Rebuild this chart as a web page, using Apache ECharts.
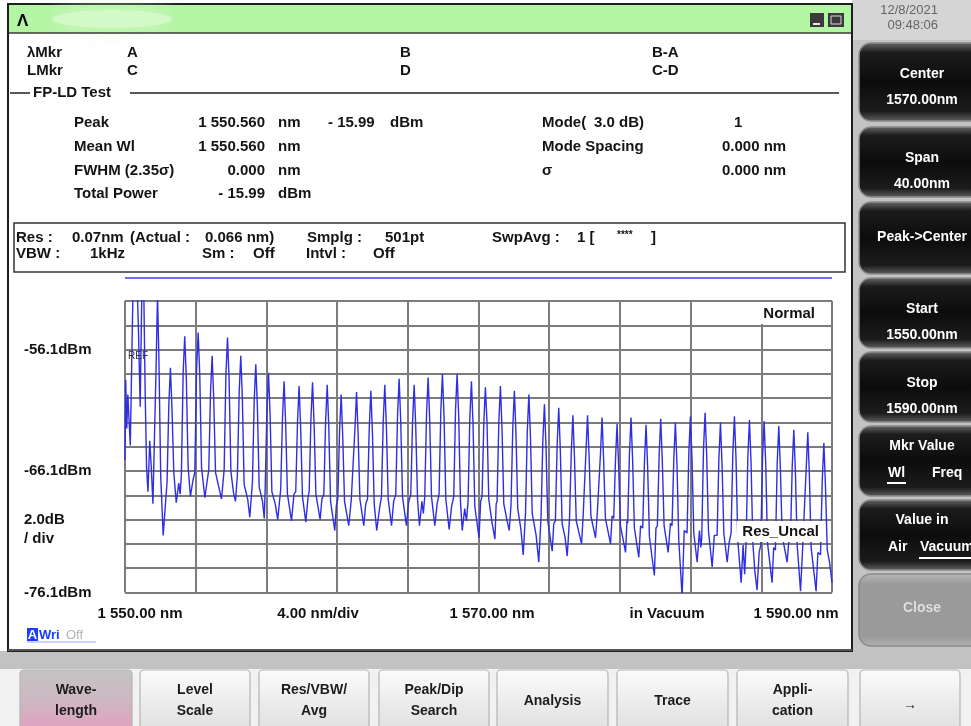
<!DOCTYPE html>
<html>
<head>
<meta charset="utf-8">
<title>FP-LD Test</title>
<script src="https://cdn.jsdelivr.net/npm/echarts@6/dist/echarts.min.js"></script>
<style>
  html, body { margin: 0; padding: 0; background: #ffffff; }
  #osa { width: 971px; height: 726px; }
</style>
</head>
<body>
<div id="osa"></div>
<script>
// ---- measured spectrum: [wavelength nm, level dBm] ----
const spectrumPoints = [
  [1550.00,-65.2],[1550.04,-58.6],[1550.10,-62.6],[1550.16,-59.8],[1550.30,-64.0],[1550.40,-55.5],
  [1550.48,-49.0],[1550.56,-15.99],[1550.64,-48.5],[1550.76,-54.4],[1550.86,-60.8],[1550.96,-50.5],
  [1551.06,-51.0],[1551.14,-59.5],[1551.22,-65.8],[1551.30,-67.8],[1551.40,-63.6],[1551.48,-65.6],
  [1551.58,-68.8],[1551.68,-62.5],[1551.76,-57.5],[1551.84,-51.6],[1551.92,-57.0],[1552.02,-66.5],
  [1552.16,-71.4],
  [1552.38,-67.0],[1552.48,-60.6],[1552.57,-57.6],[1552.66,-61.1],[1552.76,-66.2],[1552.90,-68.7],[1553.04,-67.1],[1553.12,-68.0],
  [1553.19,-66.4],[1553.29,-58.0],[1553.38,-55.0],[1553.47,-58.5],[1553.57,-65.7],[1553.70,-68.2],[1553.84,-66.9],
  [1553.95,-66.2],[1554.05,-57.7],[1554.14,-54.7],[1554.23,-58.2],[1554.33,-65.8],[1554.52,-68.3],[1554.64,-67.0],
  [1554.74,-66.0],[1554.84,-59.6],[1554.93,-56.6],[1555.02,-60.1],[1555.12,-66.2],[1555.32,-67.5],[1555.46,-68.4],
  [1555.61,-66.0],[1555.71,-58.1],[1555.80,-55.1],[1555.89,-58.6],[1555.99,-66.1],[1556.14,-67.9],[1556.25,-68.6],
  [1556.36,-66.4],[1556.46,-59.6],[1556.55,-56.6],[1556.64,-60.1],[1556.74,-67.2],[1556.94,-68.4],[1557.06,-69.9],
  [1557.21,-67.0],[1557.31,-60.3],[1557.40,-57.3],[1557.49,-60.8],[1557.59,-67.4],[1557.78,-68.6],[1557.88,-70.0],
  [1557.93,-67.6],[1558.03,-61.0],[1558.12,-58.0],[1558.21,-61.5],[1558.31,-67.8],[1558.50,-68.8],[1558.64,-70.1],
  [1558.81,-67.6],[1558.91,-61.7],[1559.00,-58.7],[1559.09,-62.2],[1559.19,-68.0],[1559.42,-70.2],[1559.56,-68.0],
  [1559.66,-67.8],[1559.76,-62.1],[1559.85,-59.1],[1559.94,-62.6],[1560.04,-68.2],[1560.23,-70.3],[1560.36,-68.2],
  [1560.42,-67.8],[1560.52,-61.8],[1560.61,-58.8],[1560.70,-62.3],[1560.80,-68.0],[1561.04,-70.1],[1561.14,-68.4],
  [1561.25,-68.0],[1561.35,-62.0],[1561.44,-59.0],[1561.53,-62.5],[1561.63,-68.6],[1561.87,-71.0],[1561.96,-68.9],
  [1562.04,-68.4],[1562.14,-62.8],[1562.23,-59.8],[1562.32,-63.3],[1562.42,-68.6],[1562.66,-70.6],[1562.80,-68.5],
  [1562.91,-68.4],[1563.01,-62.6],[1563.10,-59.6],[1563.19,-63.1],[1563.29,-68.4],[1563.51,-70.6],[1563.62,-68.8],
  [1563.72,-68.4],[1563.82,-62.5],[1563.91,-59.5],[1564.00,-63.0],[1564.10,-68.8],[1564.24,-71.0],[1564.40,-69.2],
  [1564.51,-68.2],[1564.61,-62.0],[1564.70,-59.0],[1564.79,-62.5],[1564.89,-68.4],[1565.08,-70.6],[1565.20,-68.6],
  [1565.32,-68.0],[1565.42,-61.5],[1565.51,-58.5],[1565.60,-62.0],[1565.70,-68.2],[1565.92,-70.6],[1566.04,-68.7],
  [1566.17,-68.0],[1566.27,-62.0],[1566.36,-59.0],[1566.45,-62.5],[1566.55,-68.4],[1566.66,-70.6],[1566.80,-68.6],[1566.88,-69.6],
  [1566.96,-68.2],[1567.06,-61.4],[1567.15,-58.4],[1567.24,-61.9],[1567.34,-68.2],[1567.53,-70.6],[1567.66,-68.8],
  [1567.77,-68.0],[1567.87,-61.1],[1567.96,-58.1],[1568.05,-61.6],[1568.15,-68.4],[1568.34,-70.9],[1568.48,-69.0],
  [1568.60,-68.2],[1568.70,-61.1],[1568.79,-58.1],[1568.88,-61.6],[1568.98,-68.6],[1569.08,-71.0],[1569.22,-69.2],[1569.32,-70.2],
  [1569.41,-68.6],[1569.51,-61.7],[1569.60,-58.7],[1569.69,-62.2],[1569.79,-69.0],[1570.03,-71.6],[1570.12,-68.6],
  [1570.20,-68.2],[1570.30,-62.2],[1570.39,-59.2],[1570.48,-62.0],[1570.58,-68.4],[1570.76,-70.3],[1570.93,-71.7],[1571.00,-68.8],
  [1571.05,-68.6],[1571.15,-62.1],[1571.24,-59.1],[1571.33,-62.6],[1571.43,-68.8],[1571.62,-70.2],[1571.74,-71.0],
  [1571.84,-68.9],[1571.94,-62.5],[1572.03,-59.5],[1572.12,-63.0],[1572.22,-69.2],[1572.40,-70.9],[1572.53,-73.0],
  [1572.66,-69.6],[1572.76,-62.8],[1572.85,-59.8],[1572.94,-63.3],[1573.04,-69.6],[1573.26,-71.4],[1573.41,-73.6],
  [1573.54,-69.8],[1573.64,-63.6],[1573.73,-60.6],[1573.82,-64.1],[1573.92,-70.2],[1574.17,-72.7],[1574.26,-70.4],
  [1574.35,-70.2],[1574.45,-63.9],[1574.54,-60.9],[1574.63,-64.4],[1574.73,-70.4],[1574.90,-71.6],[1575.02,-73.1],
  [1575.15,-70.0],[1575.25,-64.5],[1575.34,-61.5],[1575.43,-65.0],[1575.53,-70.2],[1575.83,-72.1],[1575.92,-69.8],
  [1575.98,-69.8],[1576.08,-64.5],[1576.17,-61.5],[1576.26,-65.0],[1576.36,-69.8],[1576.62,-71.6],[1576.72,-69.6],
  [1576.80,-69.6],[1576.90,-64.7],[1576.99,-61.7],[1577.08,-65.2],[1577.18,-70.0],[1577.47,-72.1],[1577.56,-69.8],
  [1577.65,-70.0],[1577.75,-65.2],[1577.84,-62.2],[1577.93,-65.7],[1578.03,-70.6],[1578.32,-72.8],[1578.40,-70.2],
  [1578.44,-70.4],[1578.54,-64.7],[1578.63,-61.7],[1578.72,-65.2],[1578.82,-70.8],[1579.07,-73.2],[1579.17,-70.6],
  [1579.29,-70.8],[1579.39,-65.3],[1579.48,-62.3],[1579.57,-65.8],[1579.67,-71.5],[1579.95,-74.7],[1580.04,-70.8],
  [1580.12,-70.6],[1580.22,-64.8],[1580.31,-61.8],[1580.40,-65.3],[1580.50,-70.6],[1580.73,-72.8],[1580.86,-70.4],
  [1580.95,-70.6],[1581.05,-65.1],[1581.14,-62.1],[1581.23,-65.6],[1581.33,-71.8],[1581.52,-76.4],[1581.64,-71.0],
  [1581.80,-71.2],[1581.90,-64.6],[1581.99,-61.6],[1582.08,-65.1],[1582.18,-71.2],[1582.37,-73.6],[1582.50,-71.0],[1582.58,-72.4],
  [1582.63,-71.6],[1582.73,-64.3],[1582.82,-61.3],[1582.91,-64.8],[1583.01,-71.0],[1583.22,-74.0],[1583.34,-71.4],
  [1583.50,-71.4],[1583.60,-65.1],[1583.69,-62.1],[1583.78,-65.6],[1583.88,-71.2],[1584.07,-73.6],[1584.18,-72.0],
  [1584.29,-71.2],[1584.39,-64.6],[1584.48,-61.6],[1584.57,-65.1],[1584.67,-71.8],[1584.86,-75.3],[1584.97,-72.2],[1585.06,-74.6],
  [1585.14,-72.0],[1585.24,-64.9],[1585.33,-61.9],[1585.42,-65.4],[1585.52,-72.0],[1585.64,-74.4],[1585.76,-75.9],[1585.88,-72.8],
  [1585.97,-72.2],[1586.07,-65.0],[1586.16,-62.0],[1586.25,-65.5],[1586.35,-72.0],[1586.61,-75.3],[1586.70,-72.4],
  [1586.80,-72.6],[1586.90,-65.4],[1586.99,-62.4],[1587.08,-65.9],[1587.18,-71.4],[1587.46,-73.6],[1587.55,-72.0],
  [1587.65,-71.8],[1587.75,-65.7],[1587.84,-62.7],[1587.93,-66.2],[1588.03,-72.2],[1588.22,-76.0],[1588.34,-72.4],
  [1588.44,-72.4],[1588.54,-65.9],[1588.63,-62.9],[1588.72,-66.4],[1588.82,-72.4],[1589.10,-76.0],[1589.20,-72.8],
  [1589.35,-73.0],[1589.45,-66.8],[1589.54,-63.8],[1589.63,-67.3],[1589.73,-72.6],[1589.86,-73.6],[1590.00,-75.3]
];

// ---- scale settings ----
const wavelengthRange = [1550, 1590];     // nm, 4.00 nm/div, 10 div
const levelRange = [-76.1, -52.1];        // dBm, 2.0 dB/div, 12 div
const xDivisions = 10;
const yDivisions = 12;
const levelDivisionLabels = { 0: '-76.1dBm', 5: '-66.1dBm', 10: '-56.1dBm' };
const wavelengthFooterLabels = ['1 550.00 nm', '4.00 nm/div', '1 570.00 nm', 'in Vacuum', '1 590.00 nm'];

// ---- analysis readout ----
const markerRows = [['λMkr', 'A', 'B', 'B-A'], ['LMkr', 'C', 'D', 'C-D']];
const resultLeft = [
  ['Peak', '1 550.560', 'nm'],
  ['Mean Wl', '1 550.560', 'nm'],
  ['FWHM (2.35σ)', '0.000', 'nm'],
  ['Total Power', '- 15.99', 'dBm']
];
const peakLevelText = ['- 15.99', 'dBm'];
const resultRight = [['Mode Spacing', '0.000 nm'], ['σ', '0.000 nm']];
const conditionRow1 = [['Res :', 16], ['0.07nm', 72], ['(Actual :', 130], ['0.066 nm)', 205],
                       ['Smplg :', 307], ['501pt', 385], ['SwpAvg :', 492], ['1 [', 577], [']', 651]];
const conditionRow2 = [['VBW :', 16], ['1kHz', 90], ['Sm :', 202], ['Off', 253], ['Intvl :', 306], ['Off', 373]];
const sideKeyLabels = [
  ['Center', '1570.00nm'], ['Span', '40.00nm'], ['Peak->Center'], ['Start', '1550.00nm'],
  ['Stop', '1590.00nm'], ['Mkr Value'], ['Value in'], ['Close']
];
const functionKeyLabels = [
  ['Wave-', 'length'], ['Level', 'Scale'], ['Res/VBW/', 'Avg'], ['Peak/Dip', 'Search'],
  ['Analysis'], ['Trace'], ['Appli-', 'cation'], ['→']
];

// ---- drawing helpers ----
const FONT = '"Liberation Sans", Arial, sans-serif';
function txt(x, y, text, opt) {
  opt = opt || {};
  return {
    type: 'text', x: x, y: y, z: opt.z != null ? opt.z : 60, silent: true,
    style: {
      text: text,
      font: opt.font || ('bold 15px ' + FONT),
      fill: opt.fill || '#141414',
      textAlign: opt.align || 'left', align: opt.align || 'left',
      textVerticalAlign: 'middle', verticalAlign: 'middle'
    }
  };
}
function box(x, y, w, h, style, z, r) {
  return { type: 'rect', z: z != null ? z : -5, silent: true,
           shape: { x: x, y: y, width: w, height: h, r: r || 0 }, style: style };
}
function seg(x1, y1, x2, y2, stroke, lw, z) {
  return { type: 'line', z: z != null ? z : 40, silent: true,
           shape: { x1: x1, y1: y1, x2: x2, y2: y2 }, style: { stroke: stroke, lineWidth: lw || 1 } };
}
function vgrad(stops) {
  return { type: 'linear', x: 0, y: 0, x2: 0, y2: 1,
           colorStops: stops.map(function (s) { return { offset: s[0], color: s[1] }; }) };
}

const ui = [];
// backgrounds
ui.push(box(0, 0, 971, 726, { fill: '#ffffff' }, -20));
ui.push(box(852, 0, 119, 660, { fill: '#c3c3c3' }, -19));
ui.push(box(852, 0, 119, 40, { fill: '#d5d5d5' }, -18));
ui.push(box(0, 651, 971, 18, { fill: '#c2c2c2' }, -19));
ui.push(box(0, 669, 971, 57, { fill: '#f1f1f1' }, -19));
// main window
ui.push(box(8, 4, 844, 647, { fill: '#ffffff', stroke: '#1e1e1e', lineWidth: 2 }, -10));
ui.push(box(9, 5, 842, 28, { fill: '#b2f5a2' }, -9));
ui.push({ type: 'ellipse', z: -8, silent: true, shape: { cx: 112, cy: 19, rx: 60, ry: 9 },
          style: { fill: 'rgba(214,250,204,0.8)', shadowBlur: 24, shadowColor: 'rgba(222,251,214,1)' } });
ui.push(seg(9, 33, 851, 33, '#3a3a3a', 1.5, -7));
ui.push(txt(17, 21, 'Λ', { font: 'bold 17px ' + FONT, fill: '#000' }));
ui.push(box(810, 13, 14, 14, { fill: '#3a3a3a' }, -6));
ui.push(seg(813, 24, 820, 24, '#e8e8e8', 2, -5));
ui.push(box(828, 13, 16, 14, { fill: '#3a3a3a' }, -6));
ui.push(box(831, 16, 10, 8, { fill: 'none', stroke: '#d8d8d8', lineWidth: 1 }, -5));
ui.push(seg(8, 650, 852, 650, '#555555', 2, -4));

// marker rows
markerRows.forEach(function (row, i) {
  const y = 53 + i * 17.5;
  ui.push(txt(27, y, row[0]));
  ui.push(txt(127, y, row[1]));
  ui.push(txt(400, y, row[2]));
  ui.push(txt(652, y, row[3]));
});
ui.push(seg(10, 93, 30, 93, '#222', 1.5));
ui.push(seg(130, 93, 839, 93, '#222', 1.5));
ui.push(txt(33, 93, 'FP-LD Test'));

// analysis results
const resultY = [122.5, 147.2, 171.2, 194];
resultLeft.forEach(function (row, i) {
  ui.push(txt(74, resultY[i], row[0]));
  ui.push(txt(265, resultY[i], row[1], { align: 'right' }));
  ui.push(txt(278, resultY[i], row[2]));
});
ui.push(txt(328, resultY[0], peakLevelText[0]));
ui.push(txt(390, resultY[0], peakLevelText[1]));
ui.push(txt(542, resultY[0], 'Mode('));
ui.push(txt(594, resultY[0], '3.0'));
ui.push(txt(619, resultY[0], 'dB)'));
ui.push(txt(734, resultY[0], '1'));
resultRight.forEach(function (row, i) {
  ui.push(txt(542, resultY[i + 1], row[0]));
  ui.push(txt(722, resultY[i + 1], row[1]));
});

// measurement condition box
ui.push(box(14, 223, 831, 49, { fill: 'none', stroke: '#333', lineWidth: 1.5 }, 30));
conditionRow1.forEach(function (c) { ui.push(txt(c[1], 238, c[0])); });
conditionRow2.forEach(function (c) { ui.push(txt(c[1], 254, c[0])); });
ui.push(txt(617, 235, '****', { font: 'bold 10px ' + FONT }));
ui.push(seg(125, 278, 832, 278, '#3b3bf0', 1.5));

// plot annotations
ui.push(txt(128, 356, 'REF', { font: '10px ' + FONT, fill: '#333' }));
ui.push(box(752, 302, 79, 22, { fill: '#ffffff' }, 80));
ui.push(txt(815, 314, 'Normal', { align: 'right', z: 81 }));
ui.push(box(737, 521, 86, 21, { fill: '#ffffff' }, 80));
ui.push(txt(819, 532, 'Res_Uncal', { align: 'right', z: 81 }));
ui.push(txt(24, 520, '2.0dB'));
ui.push(txt(24, 539, '/ div'));
const footerCenters = [140, 318, 492, 667, 796];
wavelengthFooterLabels.forEach(function (s, i) {
  ui.push(txt(footerCenters[i], 614, s, { align: 'center' }));
});
ui.push(box(27, 628, 11, 13, { fill: '#1a3cff' }, 50));
ui.push(txt(32.5, 635, 'A', { align: 'center', fill: '#ffffff', font: 'bold 13px ' + FONT }));
ui.push(txt(39, 635, 'Wri', { fill: '#1a3cff', font: 'bold 13px ' + FONT }));
ui.push(txt(66, 635, 'Off', { fill: '#b4b4b4', font: '13px ' + FONT }));
ui.push(seg(27, 642, 96, 642, '#9aa6ff', 1));

// right side soft keys
ui.push(txt(938, 10, '12/8/2021', { align: 'right', font: '13px ' + FONT, fill: '#666' }));
ui.push(txt(938, 25, '09:48:06', { align: 'right', font: '13px ' + FONT, fill: '#666' }));
const sideTops = [43, 127, 202, 278, 352, 426, 500, 574];
const sideHeights = [78, 70, 72, 70, 70, 70, 70, 72];
sideKeyLabels.forEach(function (lines, i) {
  const top = sideTops[i], h = sideHeights[i];
  const closing = i === sideKeyLabels.length - 1;
  ui.push(box(859, top, 125, h, {
    fill: closing
      ? vgrad([[0, '#b8b8b8'], [0.15, '#9a9a9a'], [0.85, '#9a9a9a'], [1, '#b0b0b0']])
      : vgrad([[0, '#6c6c6c'], [0.13, '#1c1c1c'], [0.5, '#0c0c0c'], [0.87, '#1c1c1c'], [1, '#626262']]),
    stroke: closing ? '#8a8a8a' : '#8c8c8c', lineWidth: 1.5
  }, -3, 12));
  const fill = closing ? '#dedede' : '#ffffff';
  const F = 'bold 14px ' + FONT;
  if (lines.length === 2) {
    ui.push(txt(922, top + 31, lines[0], { align: 'center', fill: fill, font: F }));
    ui.push(txt(922, top + 57, lines[1], { align: 'center', fill: fill, font: F }));
  } else if (i === 5) {
    ui.push(txt(922, top + 20, lines[0], { align: 'center', fill: fill, font: F }));
    ui.push(txt(888, top + 47, 'Wl', { fill: fill, font: F }));
    ui.push(txt(932, top + 47, 'Freq', { fill: fill, font: F }));
    ui.push(seg(887, top + 57, 906, top + 57, '#ffffff', 2));
  } else if (i === 6) {
    ui.push(txt(922, top + 20, lines[0], { align: 'center', fill: fill, font: F }));
    ui.push(txt(888, top + 47, 'Air', { fill: fill, font: F }));
    ui.push(txt(920, top + 47, 'Vacuum', { fill: fill, font: F }));
    ui.push(seg(919, top + 58, 971, top + 58, '#ffffff', 2));
  } else {
    ui.push(txt(922, top + (closing ? 34 : 35), lines[0], { align: 'center', fill: fill, font: F }));
  }
});

// bottom function keys
const keyLefts = [20, 140, 259, 379, 497, 617, 737, 860];
const keyWidths = [112, 110, 110, 110, 111, 111, 111, 100];
functionKeyLabels.forEach(function (lines, i) {
  const x = keyLefts[i], w = keyWidths[i];
  const selected = i === 0;
  ui.push(box(x, 670, w, 64, {
    fill: selected
      ? vgrad([[0, '#c4c4c4'], [0.45, '#cdb8c2'], [1, '#e49ec0']])
      : vgrad([[0, '#fbfbfb'], [0.5, '#ececec'], [1, '#dedede']]),
    stroke: '#b4b4b4', lineWidth: 1.2
  }, -3, 4));
  const cx = x + w / 2;
  const F = 'bold 14px ' + FONT;
  if (lines.length === 2) {
    ui.push(txt(cx, 690, lines[0], { align: 'center', font: F, fill: '#1c1c1c' }));
    ui.push(txt(cx, 711, lines[1], { align: 'center', font: F, fill: '#1c1c1c' }));
  } else {
    ui.push(txt(cx, i === 7 ? 705 : 701, lines[0], { align: 'center', font: F, fill: '#1c1c1c' }));
  }
});

// ---- chart ----
const chart = echarts.init(document.getElementById('osa'), null, { renderer: 'canvas' });
const gridLine = { show: true, lineStyle: { color: '#7c7c7c', width: 2 } };
chart.setOption({
  animation: false,
  backgroundColor: 'transparent',
  grid: { left: 125, top: 301, width: 707, height: 291.5, containLabel: false },
  xAxis: [
    { type: 'value', min: wavelengthRange[0], max: wavelengthRange[1], show: false },
    { type: 'value', min: 0, max: xDivisions, interval: 1, position: 'bottom',
      axisLine: { show: false }, axisTick: { show: false }, axisLabel: { show: false },
      splitLine: gridLine }
  ],
  yAxis: [
    { type: 'value', min: levelRange[0], max: levelRange[1], show: false },
    { type: 'value', min: 0, max: yDivisions, interval: 1, position: 'left',
      axisLine: { show: false }, axisTick: { show: false }, splitLine: gridLine,
      axisLabel: {
        show: true, margin: 101, align: 'left', color: '#141414',
        fontFamily: FONT, fontWeight: 'bold', fontSize: 15,
        formatter: function (v) { return levelDivisionLabels[v] || ''; }
      } }
  ],
  graphic: { elements: ui },
  series: [{
    type: 'line', xAxisIndex: 0, yAxisIndex: 0,
    data: spectrumPoints, showSymbol: false, clip: true, z: 10,
    lineStyle: { color: '#2e2ee6', width: 1.4 }
  }]
});
</script>
</body>
</html>
